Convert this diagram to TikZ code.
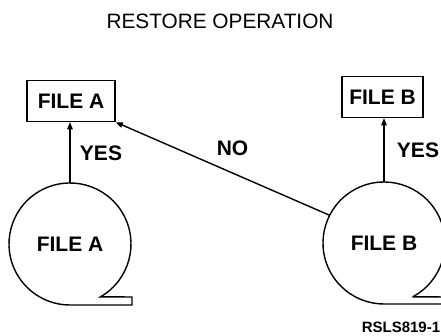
\documentclass[tikz,border=0pt]{standalone}
\usepackage{fontspec}
\setmainfont{Liberation Sans}
\usetikzlibrary{positioning,arrows.meta}

\begin{document}
\begin{tikzpicture}[x=0.5pt,y=0.5pt,line width=0.7pt,
  every node/.style={font=\fontsize{10.5}{12}\selectfont\bfseries, inner sep=0pt},
  filebox/.style={draw, minimum height=20.5pt},
  reel/.style={circle, minimum size=61pt, outer sep=0pt},
  link/.style={-{Triangle[length=3.6pt,width=2.8pt]}, line width=0.55pt}]
  \useasboundingbox (0,0) rectangle (441,336);
  \node[font=\fontsize{10.4}{12}\selectfont] (title) at (220,315) {RESTORE OPERATION};
  \foreach \n/\lab/\bx/\by/\bw/\cx/\cy in {a/A/71/235/44/70/92, b/B/382.5/239/40.5/384/93}{
    \node[filebox, minimum width=\bw pt] (f\n) at (\bx,\by) {FILE \lab};
    \node[reel] (c\n) at (\cx,\cy) {FILE \lab};
    \draw[link] (c\n.north) -- (c\n.north |- f\n.south);
  }
  % tape tails
  \draw (ca.-60) arc[start angle=-60, end angle=270, radius=30.5pt] -- (132,31) -- (132,39) -- cycle;
  \draw (cb.-62) arc[start angle=-62, end angle=270, radius=30.5pt] -- (450,32);
  \draw (cb.-62) -- (450,39);
  \node (yesa) at (101,183) {YES};
  \node (yesb) at (418,186) {YES};
  \node (no) at (232.5,188) {NO};
  \draw[link, line width=0.7pt] (cb.153) -- (fa.south east);
  \node[font=\fontsize{7.5}{9}\selectfont\bfseries] (code) at (401,9) {RSLS819-1};
\end{tikzpicture}
\end{document}
